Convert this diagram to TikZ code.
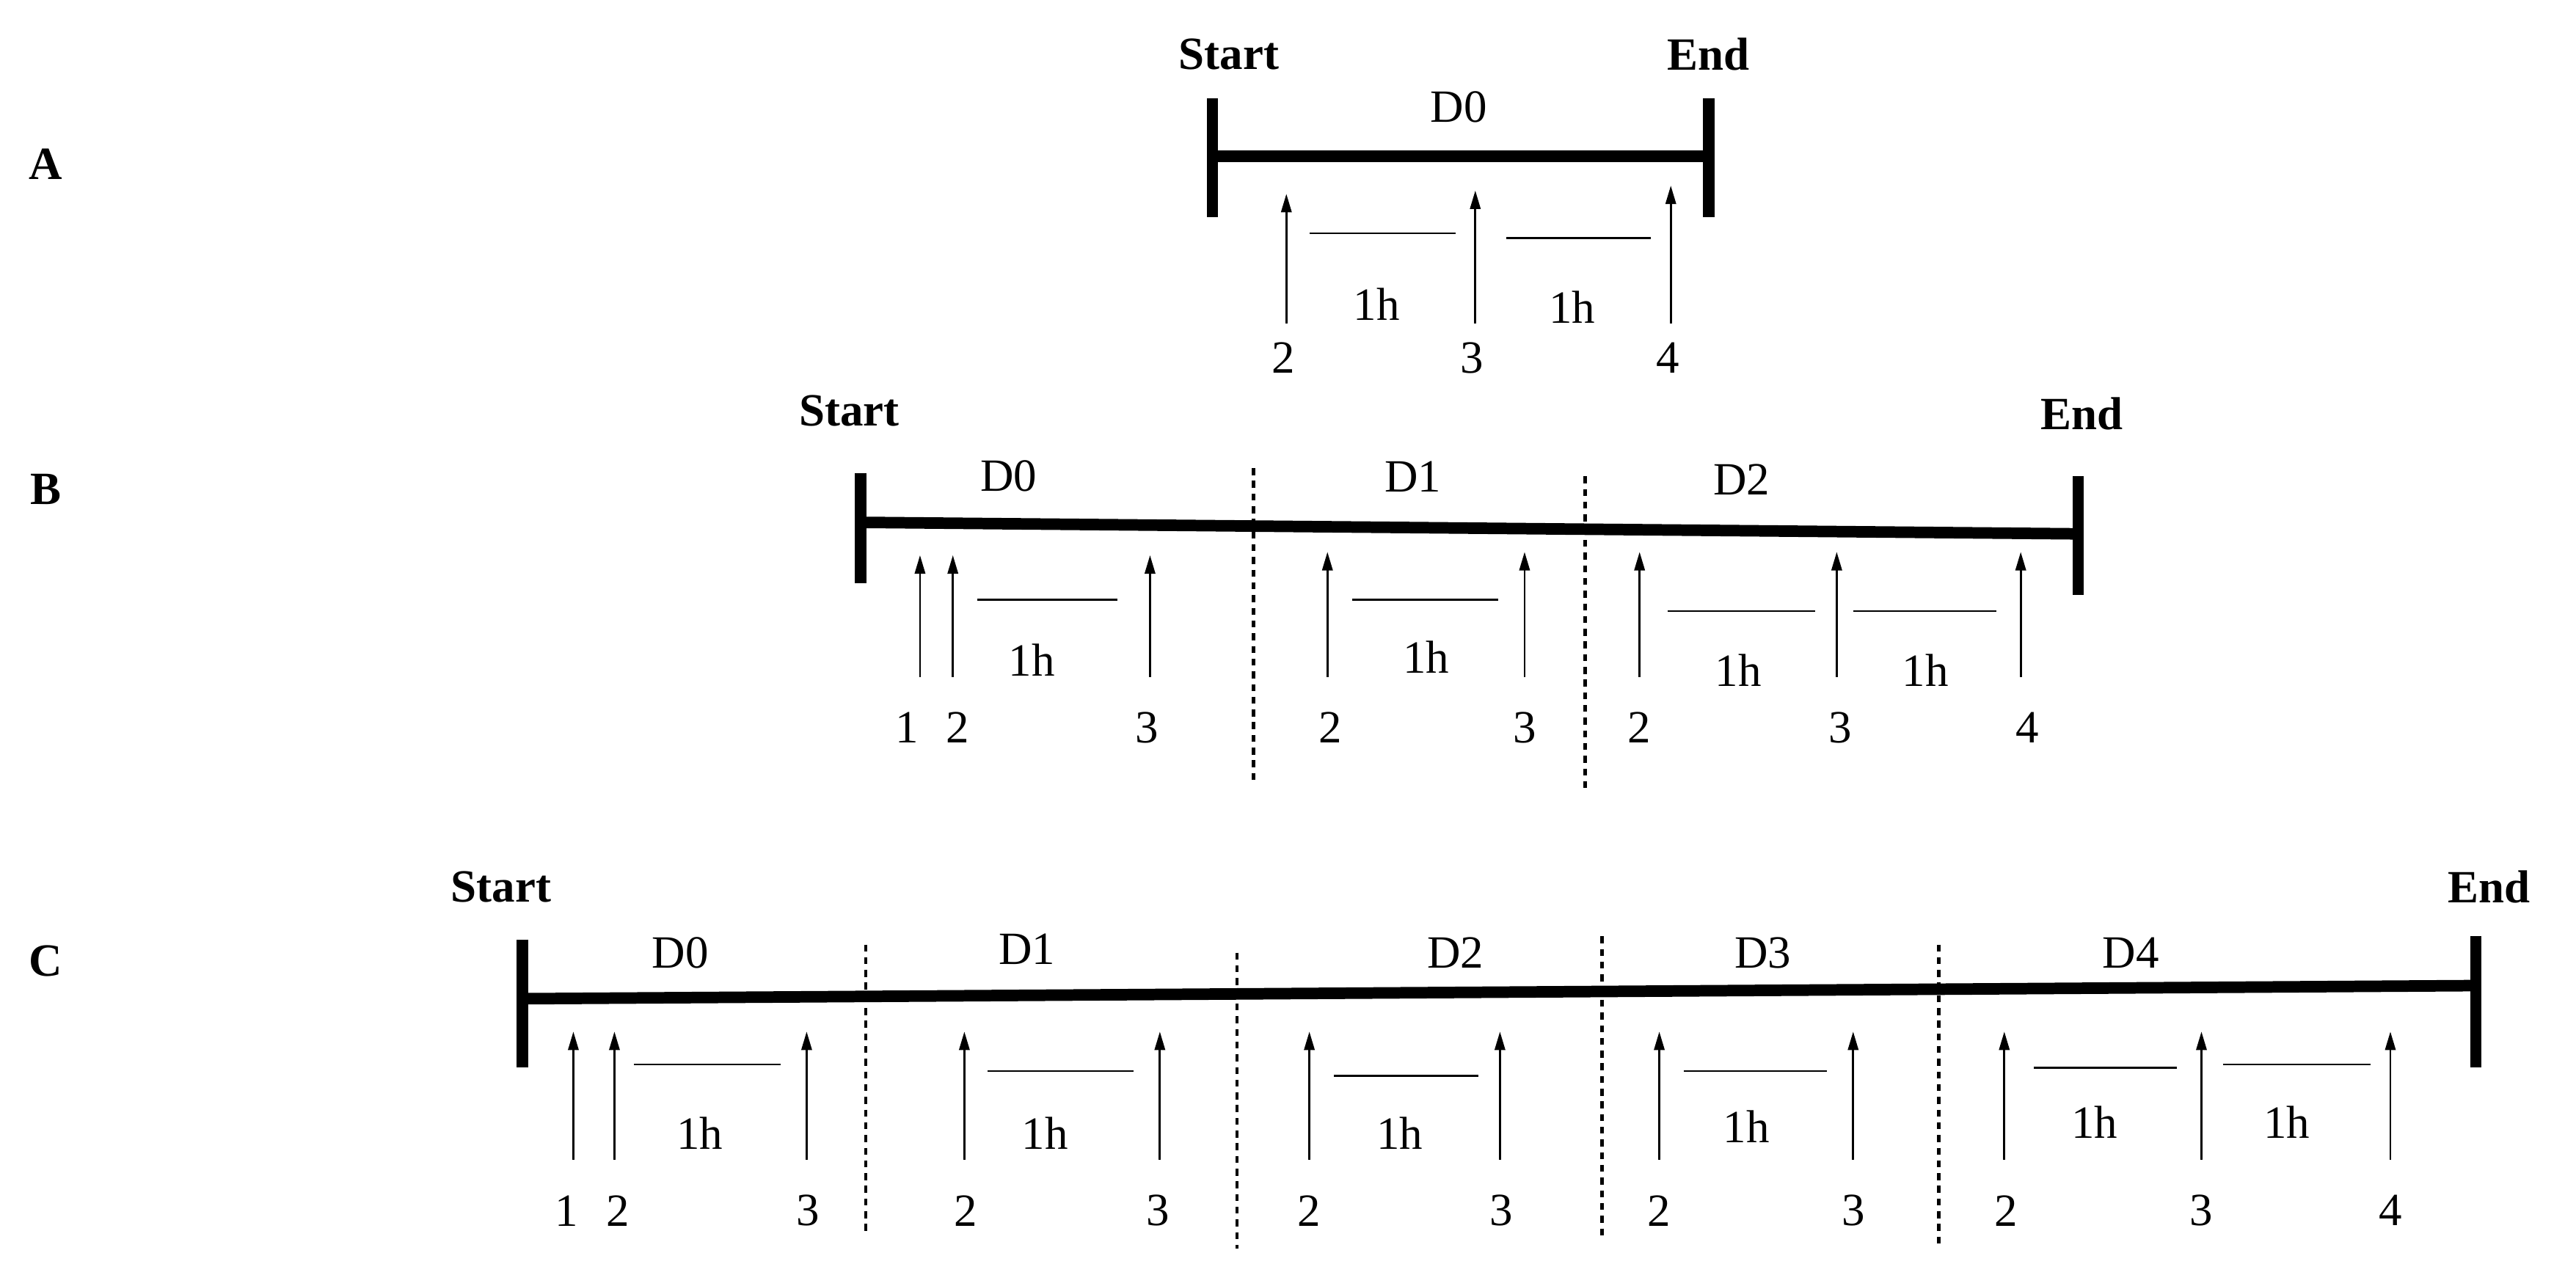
\documentclass[tikz,border=0pt]{standalone}
\usepackage{fontspec}
\setmainfont{Liberation Serif}
\usetikzlibrary{arrows.meta}
\begin{document}
\begin{tikzpicture}[x=0.5mm,y=-0.5mm,
  lbl/.style={font=\fontsize{40}{48}\selectfont,inner sep=0pt,anchor=center},
  blbl/.style={font=\fontsize{40}{48}\selectfont\bfseries,inner sep=0pt,anchor=center},
  bar/.style={line width=10pt},
  tick/.style={line width=10pt},
  arr/.style={line width=1.8pt,-{Triangle[length=16pt,width=9pt]}},
  span/.style={line width=1.8pt},
  sep/.style={line width=3pt,dash pattern=on 6pt off 5pt}]
\useasboundingbox (0,0) rectangle (1568,776);
% panel labels
\node[blbl] (lA) at (28,100) {A};
\node[blbl] (lB) at (28,298) {B};
\node[blbl] (lC) at (28,585) {C};
% ---------- A ----------
\coordinate (As) at (738,95); \coordinate (Ae) at (1040,95);
\draw[bar] (As) -- (Ae);
\draw[tick] (738,60) -- (738,132); \draw[tick] (1040,60) -- (1040,132);
\node[blbl] (AS) at (748,33) {Start};
\node[blbl] (AE) at (1040,33) {End};
\node[lbl] (AD0) at (888,65) {D0};
\foreach \x/\t/\n [count=\i] in {783/118/2,898/116/3,1017/113/4}{
  \node[lbl] (An\i) at (\x-2,218) {\n};
  \coordinate (At\i) at (\x,\t);
  \draw[arr] (\x,197) -- (At\i);}
\draw[span] (797,142) -- (886,142); \draw[span] (917,145) -- (1005,145);
\node[lbl] (Ah1) at (838,185) {1h}; \node[lbl] (Ah2) at (957,187) {1h};
% ---------- B ----------
\coordinate (Bs) at (524,318); \coordinate (Be) at (1265,325);
\draw[bar] (Bs) -- (Be);
\draw[tick] (524,288) -- (524,355); \draw[tick] (1265,290) -- (1265,362);
\draw[sep] (763,285) -- (763,478); \draw[sep] (965,290) -- (965,480);
\node[blbl] (BS) at (517,250) {Start};
\node[blbl] (BE) at (1267,252) {End};
\node[lbl] (BD0) at (614,290) {D0};
\node[lbl] (BD1) at (860,290) {D1};
\node[lbl] (BD2) at (1060,292) {D2};
\foreach \x/\t/\n/\lx [count=\i] in {560/338/1/552,580/338/2/583,700/338/3/698,808/336/2/810,928/336/3/928,998/336/2/998,1118/336/3/1120,1230/336/4/1234}{
  \node[lbl] (Bn\i) at (\lx,443) {\n};
  \coordinate (Bt\i) at (\x,\t);
  \draw[arr] (\x,412) -- (Bt\i);}
\draw[span] (595,365) -- (680,365); \draw[span] (823,365) -- (912,365);
\draw[span] (1015,372) -- (1105,372); \draw[span] (1128,372) -- (1215,372);
\node[lbl] (Bh1) at (628,402) {1h}; \node[lbl] (Bh2) at (868,400) {1h};
\node[lbl] (Bh3) at (1058,408) {1h}; \node[lbl] (Bh4) at (1172,408) {1h};
% ---------- C ----------
\coordinate (Cs) at (318,608); \coordinate (Ce) at (1507,600);
\draw[bar] (Cs) -- (Ce);
\draw[tick] (318,572) -- (318,650); \draw[tick] (1507,570) -- (1507,650);
\draw[sep] (527,575) -- (527,752); \draw[sep] (753,580) -- (753,760);
\draw[sep] (975,570) -- (975,755); \draw[sep] (1180,575) -- (1180,760);
\node[blbl] (CS) at (305,540) {Start};
\node[blbl] (CE) at (1515,540) {End};
\node[lbl] (CD0) at (414,580) {D0};
\node[lbl] (CD1) at (625,578) {D1};
\node[lbl] (CD2) at (886,580) {D2};
\node[lbl] (CD3) at (1073,580) {D3};
\node[lbl] (CD4) at (1297,580) {D4};
\foreach \x/\n/\lx [count=\i] in {349/1/345,374/2/376,491/3/492,587/2/588,706/3/705,797/2/797,913/3/914,1010/2/1010,1128/3/1128,1220/2/1221,1340/3/1340,1455/4/1455}{
  \node[lbl] (Cn\i) at (\lx,737) {\n};
  \coordinate (Ct\i) at (\x,628);
  \draw[arr] (\x,706) -- (Ct\i);}
\draw[span] (386,648) -- (475,648); \draw[span] (601,652) -- (690,652);
\draw[span] (812,655) -- (900,655); \draw[span] (1025,652) -- (1112,652);
\draw[span] (1238,650) -- (1325,650); \draw[span] (1353,648) -- (1443,648);
\node[lbl] (Ch1) at (426,690) {1h}; \node[lbl] (Ch2) at (636,690) {1h};
\node[lbl] (Ch3) at (852,690) {1h}; \node[lbl] (Ch4) at (1063,686) {1h};
\node[lbl] (Ch5) at (1275,683) {1h}; \node[lbl] (Ch6) at (1392,683) {1h};
\end{tikzpicture}
\end{document}
